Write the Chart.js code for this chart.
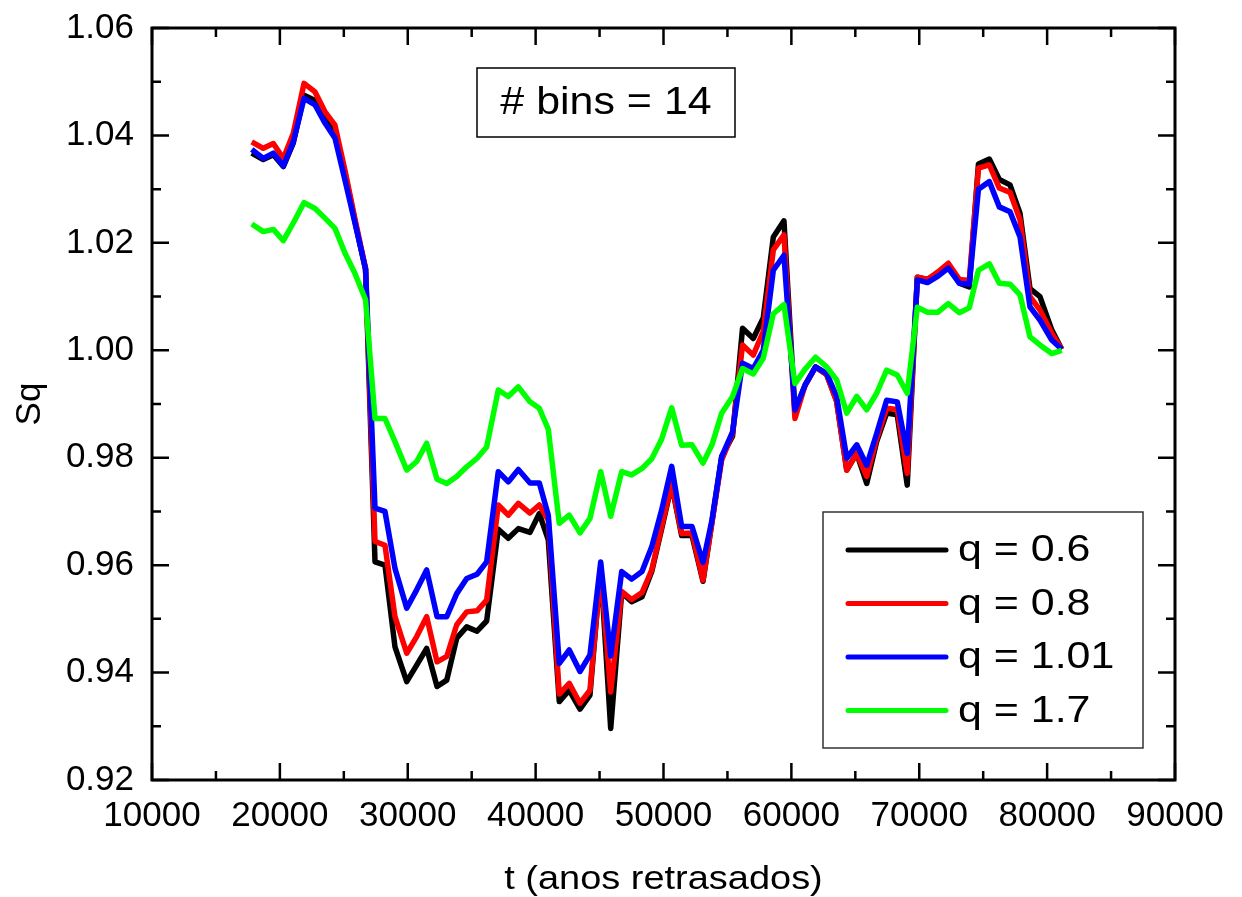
<!DOCTYPE html>
<html>
<head>
<meta charset="utf-8">
<script src="https://cdn.jsdelivr.net/npm/chart.js@4.4.1/dist/chart.umd.min.js"></script>
<style>
  html, body { margin: 0; padding: 0; background: #fff; }
  #wrap { width: 1242px; height: 897px; }
</style>
</head>
<body>
<div id="wrap"><canvas id="chart" width="1242" height="897"></canvas></div>
<script>
// anos retrasados (eixo x)
const years = [
  17800, 18700, 19490, 20270, 21050, 21890, 22750, 23530, 24310, 25090,
  25870, 26700, 27440, 28220, 29000, 29920, 30700, 31480, 32290, 33050,
  33830, 34610, 35420, 36170, 37080, 37860, 38650, 39560, 40290, 40990,
  41850, 42630, 43470, 44250, 45090, 45870, 46730, 47510, 48320, 49080,
  49860, 50640, 51420, 52230, 53090, 53790, 54550, 55400, 56180, 57020,
  57800, 58590, 59420, 60280, 61070, 61890, 62760, 63540, 64330, 65110,
  65890, 66670, 67450, 68280, 69060, 69850, 70640, 71470, 72270, 73130,
  73910, 74630, 75480, 76260, 77100, 77880, 78660, 79440, 80360, 81140
];

const sq06 = [
  1.0367, 1.0355, 1.0364, 1.0342, 1.0386, 1.0475, 1.0465, 1.0435, 1.0410, 1.0330,
  1.0240, 1.0150, 0.9606, 0.9600, 0.9448, 0.9383, 0.9414, 0.9445, 0.9374, 0.9386,
  0.9464, 0.9485, 0.9477, 0.9496, 0.9667, 0.9650, 0.9668, 0.9661, 0.9696, 0.9647,
  0.9346, 0.9367, 0.9332, 0.9358, 0.9595, 0.9296, 0.9549, 0.9532, 0.9541, 0.9588,
  0.9668, 0.9750, 0.9655, 0.9655, 0.9570, 0.9680, 0.9802, 0.9840, 1.0041, 1.0022,
  1.0060, 1.0211, 1.0241, 0.9886, 0.9935, 0.9969, 0.9955, 0.9905, 0.9777, 0.9808,
  0.9752, 0.9830, 0.9883, 0.9880, 0.9749, 1.0136, 1.0132, 1.0143, 1.0158, 1.0125,
  1.0118, 1.0347, 1.0356, 1.0318, 1.0308, 1.0255, 1.0115, 1.0100, 1.0038, 1.0002
];

const sq08 = [
  1.0388, 1.0376, 1.0385, 1.0357, 1.0404, 1.0497, 1.0481, 1.0444, 1.0419, 1.0335,
  1.0245, 1.0152, 0.9644, 0.9637, 0.9504, 0.9436, 0.9467, 0.9504, 0.9420, 0.9430,
  0.9489, 0.9513, 0.9515, 0.9535, 0.9712, 0.9693, 0.9715, 0.9697, 0.9712, 0.9684,
  0.9360, 0.9380, 0.9343, 0.9367, 0.9591, 0.9364, 0.9551, 0.9536, 0.9549, 0.9591,
  0.9672, 0.9752, 0.9659, 0.9660, 0.9572, 0.9680, 0.9796, 0.9845, 1.0010, 0.9991,
  1.0035, 1.0187, 1.0215, 0.9873, 0.9935, 0.9969, 0.9955, 0.9905, 0.9777, 0.9808,
  0.9765, 0.9835, 0.9892, 0.9890, 0.9771, 1.0136, 1.0132, 1.0146, 1.0162, 1.0132,
  1.0130, 1.0339, 1.0345, 1.0302, 1.0294, 1.0243, 1.0100, 1.0075, 1.0032, 1.0002
];

const sq101 = [
  1.0374, 1.0357, 1.0367, 1.0343, 1.0388, 1.0469, 1.0457, 1.0423, 1.0395, 1.0317,
  1.0237, 1.0152, 0.9706, 0.9700, 0.9594, 0.9520, 0.9554, 0.9591, 0.9504, 0.9504,
  0.9547, 0.9575, 0.9583, 0.9606, 0.9774, 0.9755, 0.9778, 0.9753, 0.9753, 0.9693,
  0.9417, 0.9442, 0.9402, 0.9433, 0.9606, 0.9431, 0.9588, 0.9574, 0.9588, 0.9634,
  0.9703, 0.9784, 0.9672, 0.9672, 0.9605, 0.9684, 0.9802, 0.9848, 0.9976, 0.9966,
  1.0000, 1.0149, 1.0177, 0.9889, 0.9935, 0.9969, 0.9957, 0.9914, 0.9799, 0.9824,
  0.9786, 0.9845, 0.9907, 0.9904, 0.9808, 1.0131, 1.0126, 1.0138, 1.0153, 1.0125,
  1.0123, 1.0300, 1.0314, 1.0267, 1.0258, 1.0211, 1.0081, 1.0056, 1.0019, 1.0002
];

const sq17 = [
  1.0235, 1.0221, 1.0225, 1.0204, 1.0237, 1.0275, 1.0264, 1.0246, 1.0227, 1.0181,
  1.0143, 1.0094, 0.9873, 0.9873, 0.9830, 0.9777, 0.9793, 0.9827, 0.9760, 0.9752,
  0.9765, 0.9783, 0.9799, 0.9820, 0.9926, 0.9914, 0.9932, 0.9904, 0.9892, 0.9853,
  0.9678, 0.9693, 0.9660, 0.9687, 0.9774, 0.9691, 0.9774, 0.9768, 0.9780, 0.9798,
  0.9835, 0.9893, 0.9823, 0.9824, 0.9790, 0.9824, 0.9883, 0.9914, 0.9966, 0.9956,
  0.9985, 1.0068, 1.0085, 0.9938, 0.9965, 0.9987, 0.9969, 0.9945, 0.9883, 0.9914,
  0.9889, 0.9920, 0.9963, 0.9954, 0.9920, 1.0080, 1.0071, 1.0071, 1.0087, 1.0070,
  1.0079, 1.0149, 1.0161, 1.0125, 1.0123, 1.0103, 1.0025, 1.0010, 0.9994, 1.0000
];

const seriesLabels = ["q = 0.6", "q = 0.8", "q = 1.01", "q = 1.7"];
const seriesColors = ["#000000", "#ff0000", "#0000ff", "#00ff00"];
const xTicks = [10000, 20000, 30000, 40000, 50000, 60000, 70000, 80000, 90000];
const yTicks = [0.92, 0.94, 0.96, 0.98, 1.00, 1.02, 1.04, 1.06];
const xTitle = "t (anos retrasados)";
const yTitle = "Sq";
const boxText = "# bins = 14";

const FONT = '"Liberation Sans", Arial, Helvetica, sans-serif';

function toPoints(values) {
  return years.map((t, i) => ({ x: t, y: values[i] }));
}

function wideText(ctx, text, x, y, size, align, stretch) {
  ctx.save();
  ctx.font = `${size}px ${FONT}`;
  ctx.fillStyle = "#000";
  ctx.textAlign = align;
  ctx.textBaseline = "middle";
  ctx.translate(x, y);
  ctx.scale(stretch, 1);
  ctx.fillText(text, 0, 0);
  ctx.restore();
}

// moldura, ticks internos nos 4 lados, legenda, caixa de texto e titulos
const decorPlugin = {
  id: "decor",
  afterDraw(chart) {
    const { ctx, chartArea: a, scales } = chart;
    const xs = scales.x;
    const ys = scales.y;
    ctx.save();
    ctx.strokeStyle = "#000";
    ctx.lineCap = "butt";

    ctx.lineWidth = 2.5;
    for (let i = 0; i <= 16; i += 1) {
      const px = xs.getPixelForValue(10000 + i * 5000);
      const len = i % 2 === 0 ? 17 : 9;
      ctx.beginPath();
      ctx.moveTo(px, a.bottom);
      ctx.lineTo(px, a.bottom - len);
      ctx.moveTo(px, a.top);
      ctx.lineTo(px, a.top + len);
      ctx.stroke();
    }
    for (let i = 0; i <= 14; i += 1) {
      const py = ys.getPixelForValue(0.92 + i * 0.01);
      const len = i % 2 === 0 ? 17 : 9;
      ctx.beginPath();
      ctx.moveTo(a.left, py);
      ctx.lineTo(a.left + len, py);
      ctx.moveTo(a.right, py);
      ctx.lineTo(a.right - len, py);
      ctx.stroke();
    }

    ctx.lineWidth = 3;
    ctx.strokeRect(a.left, a.top, a.right - a.left, a.bottom - a.top);

    // caixa "# bins = 14"
    ctx.lineWidth = 1.5;
    ctx.fillStyle = "#fff";
    ctx.fillRect(477, 68, 258, 69);
    ctx.strokeRect(477, 68, 258, 69);
    wideText(ctx, boxText, 606, 104, 38, "center", 1.13);

    // legenda
    ctx.strokeStyle = "#333";
    ctx.fillRect(823, 512, 320, 236);
    ctx.strokeRect(823, 512, 320, 236);
    ctx.lineWidth = 5;
    ctx.lineCap = "round";
    seriesLabels.forEach((label, i) => {
      const ly = 550 + i * 53.5;
      ctx.strokeStyle = seriesColors[i];
      ctx.beginPath();
      ctx.moveTo(848, ly);
      ctx.lineTo(946, ly);
      ctx.stroke();
      wideText(ctx, label, 958, ly + 1, 37, "left", 1.16);
    });

    // titulos dos eixos
    wideText(ctx, xTitle, (a.left + a.right) / 2, 880, 33, "center", 1.15);
    ctx.save();
    ctx.translate(30, (a.top + a.bottom) / 2);
    ctx.rotate(-Math.PI / 2);
    wideText(ctx, yTitle, 0, 0, 35, "center", 1.0);
    ctx.restore();

    ctx.restore();
  }
};

const datasets = [sq06, sq08, sq101, sq17].map((values, i) => ({
  label: seriesLabels[i],
  data: toPoints(values),
  borderColor: seriesColors[i],
  backgroundColor: seriesColors[i],
  borderWidth: 5.5,
  borderJoinStyle: "round",
  pointRadius: 0,
  tension: 0,
  fill: false,
  order: 4 - i
}));

new Chart(document.getElementById("chart"), {
  type: "line",
  data: { datasets },
  options: {
    responsive: false,
    animation: false,
    devicePixelRatio: 1,
    layout: { padding: { top: 28, right: 67, left: 0, bottom: 0 } },
    plugins: {
      legend: { display: false },
      tooltip: { enabled: false }
    },
    scales: {
      x: {
        type: "linear",
        min: 10000,
        max: 90000,
        grid: { display: false, drawTicks: false },
        border: { display: false },
        afterFit: (scale) => {
          scale.height = 117;
          scale.paddingLeft = 0;
          scale.paddingRight = 0;
        },
        afterBuildTicks: (scale) => { scale.ticks = xTicks.map((v) => ({ value: v })); },
        ticks: {
          color: "#000",
          padding: 15,
          maxRotation: 0,
          font: { family: FONT, size: 35 },
          callback: (v) => String(v)
        }
      },
      y: {
        type: "linear",
        min: 0.92,
        max: 1.06,
        grid: { display: false, drawTicks: false },
        border: { display: false },
        afterFit: (scale) => {
          scale.width = 152;
          scale.paddingTop = 0;
          scale.paddingBottom = 0;
        },
        afterBuildTicks: (scale) => { scale.ticks = yTicks.map((v) => ({ value: v })); },
        ticks: {
          color: "#000",
          padding: 18,
          font: { family: FONT, size: 35 },
          callback: (v) => Number(v).toFixed(2)
        }
      }
    }
  },
  plugins: [decorPlugin]
});
</script>
</body>
</html>
